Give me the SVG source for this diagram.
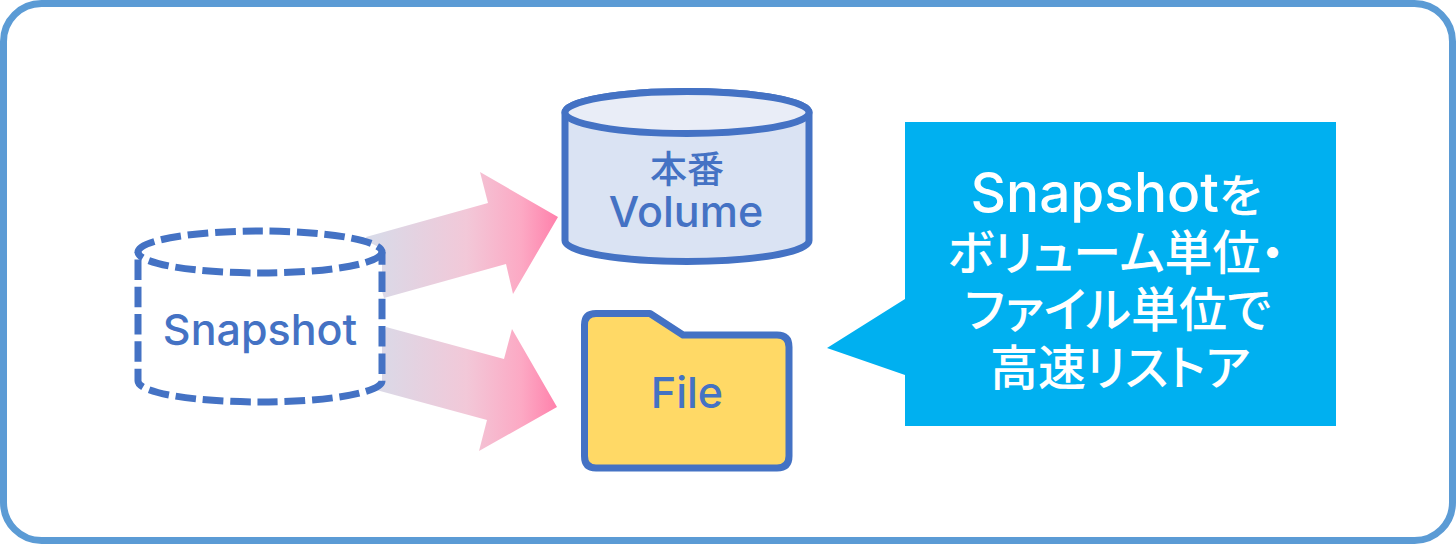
<svg xmlns="http://www.w3.org/2000/svg" width="1456" height="544" viewBox="0 0 1456 544">
<style>
.c{fill:#4472C4;font-family:"Inter","Noto Sans CJK JP",sans-serif;font-size:43px;font-weight:500;text-anchor:middle}
.j{font-size:37px;font-family:"Noto Sans CJK JP",sans-serif}
.w{fill:#fff;font-family:"Inter","Noto Sans CJK JP",sans-serif;font-size:48px;font-weight:500;text-anchor:middle;font-feature-settings:"palt"}
.s{stroke:#4472C4;stroke-width:7;stroke-linejoin:round}
.d{stroke-dasharray:20.5 6.8}
</style>
<defs>
<linearGradient id="g" gradientUnits="userSpaceOnUse" x1="375" y1="0" x2="558" y2="0"><stop offset="0" stop-color="#D9DAE8"/><stop offset="0.5" stop-color="#F2C8D8"/><stop offset="0.8" stop-color="#FCA9C4"/><stop offset="1" stop-color="#FF80AB"/></linearGradient>
</defs>
<rect id="frame" x="3.500" y="3.500" width="1449" height="537" rx="38" fill="#fff" stroke="#5B9BD5" stroke-width="7"/>
<g id="connectors">
<polygon fill="url(#g)" points="366,237 488,203 480,172 558,217 513,294 506,264 384,298"/>
<polygon fill="url(#g)" points="386,327 504,359 512,329 557,407 479,451 487,420 369,388"/>
</g>
<g id="snapshot">
<path class="s d" fill="#fff" d="M138 252A122 21 0 0 1 382 252V381A122 21 0 0 1 138 381Z"/>
<path class="s d" fill="none" d="M382 252A122 21 0 0 1 138 252"/>
<text class="c" x="260" y="345">Snapshot</text>
</g>
<g id="volume">
<path class="s" fill="#DAE3F3" d="M565 112.500A122 21 0 0 1 809 112.500V240.500A122 21 0 0 1 565 240.500Z"/>
<ellipse class="s" fill="#E9EDF7" cx="687" cy="112.500" rx="122" ry="21"/>
<text class="c"><tspan class="j" x="687" y="183">本番</tspan><tspan x="686" y="227">Volume</tspan></text>
</g>
<g id="file">
<path class="s" fill="#FFD966" d="M596 313.500H650L683 335H777Q789 335 789 347V456Q789 468 777 468H596Q584.500 468 584.500 456V325Q584.500 313.500 596 313.500Z"/>
<text class="c" x="687" y="408">File</text>
</g>
<g id="callout">
<polygon fill="#00B0F0" points="905,122 1336,122 1336,426 905,426 905,375 827,348 905,299"/>
<text class="w" x="1116" y="212" style="font-size:55px">Snapshot<tspan style="font-size:46px">を</tspan></text>
<text class="w" x="1116" y="270">ボリューム単位・</text>
<text class="w" x="1118" y="327">ファイル単位で</text>
<text class="w" x="1120" y="385">高速リストア</text>
</g>
</svg>
